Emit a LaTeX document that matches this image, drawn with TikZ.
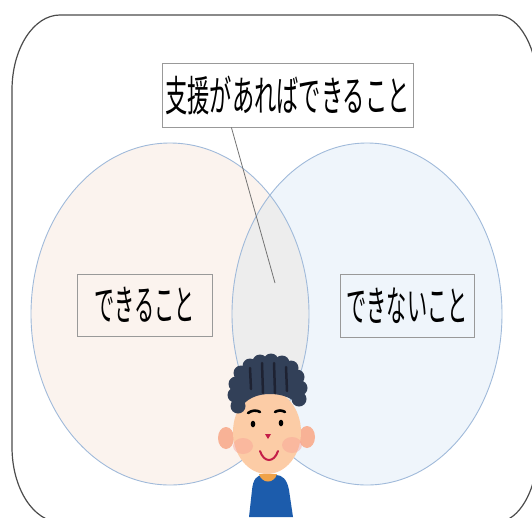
\documentclass[tikz,border=0pt]{standalone}
\usepackage{fontspec}
\newfontfamily\jp{Noto Sans CJK JP}
\definecolor{kanou}{RGB}{251,243,238}
\definecolor{fukanou}{RGB}{239,245,251}
\definecolor{shienbu}{RGB}{237,237,237}
\definecolor{waku}{RGB}{160,186,218}
\definecolor{hada}{RGB}{252,204,166}
\definecolor{mimi}{RGB}{248,178,150}
\definecolor{hoho}{RGB}{248,160,150}
\definecolor{kami}{RGB}{50,64,88}
\definecolor{kamisuji}{RGB}{30,34,50}
\definecolor{fuku}{RGB}{28,92,172}
\definecolor{kubi}{RGB}{240,162,72}
\definecolor{kuchi}{RGB}{196,30,72}

\begin{document}
\begin{tikzpicture}[x=1pt,y=-1pt]
\tikzstyle{every node}=[draw=black!40,line width=0.8pt,inner sep=0pt];
\useasboundingbox (0,0) rectangle (532,517);
\draw[black!70, line width=1.2pt] (12,447) -- (12,90) .. controls (12,48.6) and (33.5,15) .. (60,15)
  -- (497,15) .. controls (519.6,15) and (538,48.6) .. (538,90)
  -- (538,447) .. controls (538,488.4) and (519.6,522) .. (497,522)
  -- (60,522) .. controls (33.5,522) and (12,488.4) .. (12,447) -- cycle;

\fill[kanou] (170,314) ellipse [x radius=139, y radius=171];
\fill[fukanou] (367,314) ellipse [x radius=135, y radius=171];
\begin{scope}
\clip (170,314) ellipse [x radius=139, y radius=171];
\fill[shienbu] (367,314) ellipse [x radius=135, y radius=171];
\end{scope}
\draw[waku, line width=0.9pt] (170,314) ellipse [x radius=139, y radius=171];
\draw[waku, line width=0.9pt] (367,314) ellipse [x radius=135, y radius=171];

\node[fill=white, minimum width=251pt, minimum height=64pt] (shien) at (287.5,95)
  {\scalebox{0.53}[1]{\jp\fontsize{42}{42}\selectfont 支援があればできること}};
\node[minimum width=135pt, minimum height=62pt] (dekiru) at (144.5,305)
  {\scalebox{0.48}[1]{\jp\fontsize{42}{42}\selectfont できること}};
\node[minimum width=134pt, minimum height=63pt] (dekinai) at (407,305.5)
  {\scalebox{0.48}[1]{\jp\fontsize{42}{42}\selectfont できないこと}};
\coordinate (saki) at (275,283);
\draw[black!55, line width=0.8pt] (shien.210) -- (saki);

% boy
\fill[fuku] (249,517) -- (252,490) .. controls (253,479) and (257,475) .. (263,475)
  -- (276,475) .. controls (282,475) and (287,479) .. (289,490) -- (293,517) -- cycle;
\fill[kubi] (259,474) -- (277,474) .. controls (274,484) and (262,484) .. cycle;
\fill[mimi] (226,438) ellipse [x radius=8, y radius=11];
\fill[mimi] (307,437) ellipse [x radius=8, y radius=11];
\fill[hada] (267,432) ellipse [x radius=34, y radius=42];
\fill[hoho, opacity=0.45] (243,446) ellipse [x radius=10, y radius=8];
\fill[hoho, opacity=0.45] (292,445) ellipse [x radius=10, y radius=8];
\fill[kami] (238,412) -- (235,384) -- (250,366) -- (282,363) -- (298,377) -- (299,406)
  .. controls (293,398) and (282,394) .. (270,394) .. controls (258,394) and (245,398) .. (238,412) -- cycle;
\foreach \p in {(238,406),(235,395),(236,384),(241,373),(250,366),(260,362),(271,361),(282,363),(291,368),(297,377),(300,388),(299,399)}
  \fill[kami] \p circle [radius=7.5];
\foreach \xa/\ya/\xb/\yb in {250/368/251/389, 262/363/263/393, 274/363/275/393, 286/367/287/391}
  \draw[kamisuji, line width=2.5pt, line cap=round] (\xa,\ya) -- (\xb,\yb);
\draw[black, line width=2.6pt, line cap=round] (248,413) .. controls (252,410) and (257,410) .. (260,412);
\draw[black, line width=2.6pt, line cap=round] (275,412) .. controls (278,410) and (282,410) .. (285,412);
\fill[black] (253,424) ellipse [x radius=2.3, y radius=3.3];
\fill[black] (281,423) ellipse [x radius=2.3, y radius=3.3];
\fill[kuchi] (265,434) -- (271,434) -- (268,439) -- cycle;
\draw[kuchi, line width=2pt, line cap=round] (260,451) .. controls (264,463) and (274,463) .. (278,451);
\end{tikzpicture}
\end{document}
